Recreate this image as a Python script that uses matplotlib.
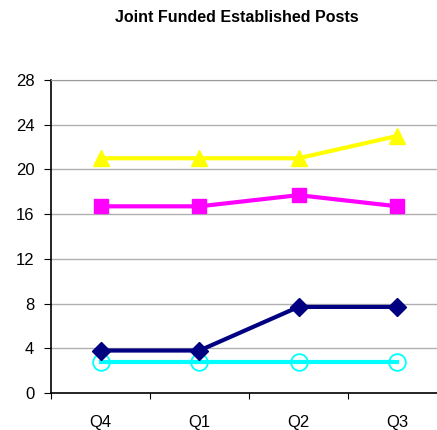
import matplotlib.pyplot as plt
import numpy as np

plt.rcParams['font.family'] = ['Liberation Sans', 'DejaVu Sans']

# --- data ---
quarters = ['Q4', 'Q1', 'Q2', 'Q3']
yellow_vals = [21, 21, 21, 23]
magenta_vals = [16.7, 16.7, 17.7, 16.7]
navy_vals = [3.8, 3.8, 7.7, 7.7]
cyan_vals = [2.8, 2.8, 2.8, 2.8]

fig = plt.figure(figsize=(4.37, 4.30), dpi=100)
# plot area runs slightly past the right edge of the picture
ax = fig.add_axes([51 / 437, 37 / 430, 396 / 437, 313 / 430])

x = np.arange(len(quarters)) + 0.5

ax.plot(x, yellow_vals, color='#FFFF00', lw=3, marker='^', ms=12, zorder=3)
ax.plot(x, magenta_vals, color='#FF00FF', lw=3, marker='s', ms=10, zorder=3)
ax.plot(x, navy_vals, color='#000080', lw=3, marker='D', ms=9, zorder=4)
ax.plot(x, cyan_vals, color='#00FFFF', lw=3, marker='o', ms=12,
        markerfacecolor='none', markeredgewidth=1.3, zorder=3)

ax.set_xlim(0, 4)
ax.set_ylim(0, 28)
ax.set_yticks(range(0, 29, 4))
ax.set_xticks(range(0, 5))
ax.set_xticklabels([])
ax.set_xticks(x, minor=True)
ax.set_xticklabels(quarters, minor=True)
ax.tick_params(axis='x', which='minor', length=0, pad=16, labelsize=12)
ax.tick_params(axis='x', which='major', length=4, direction='out')
ax.tick_params(axis='y', length=5, direction='out', labelsize=12, pad=7)

ax.yaxis.grid(True, color='#b0b0b0', lw=1)
ax.set_axisbelow(True)
ax.spines['right'].set_visible(False)
ax.spines['top'].set_color('#999999')
ax.spines['left'].set_color('black')
ax.spines['bottom'].set_color('black')
ax.spines['left'].set_linewidth(1.2)
ax.spines['bottom'].set_linewidth(1.2)

fig.text(237 / 437, 1 - 18 / 430, 'Joint Funded Established Posts',
         ha='center', va='center', fontsize=11.5, fontweight='bold')

fig.savefig('out.png', dpi=100)
